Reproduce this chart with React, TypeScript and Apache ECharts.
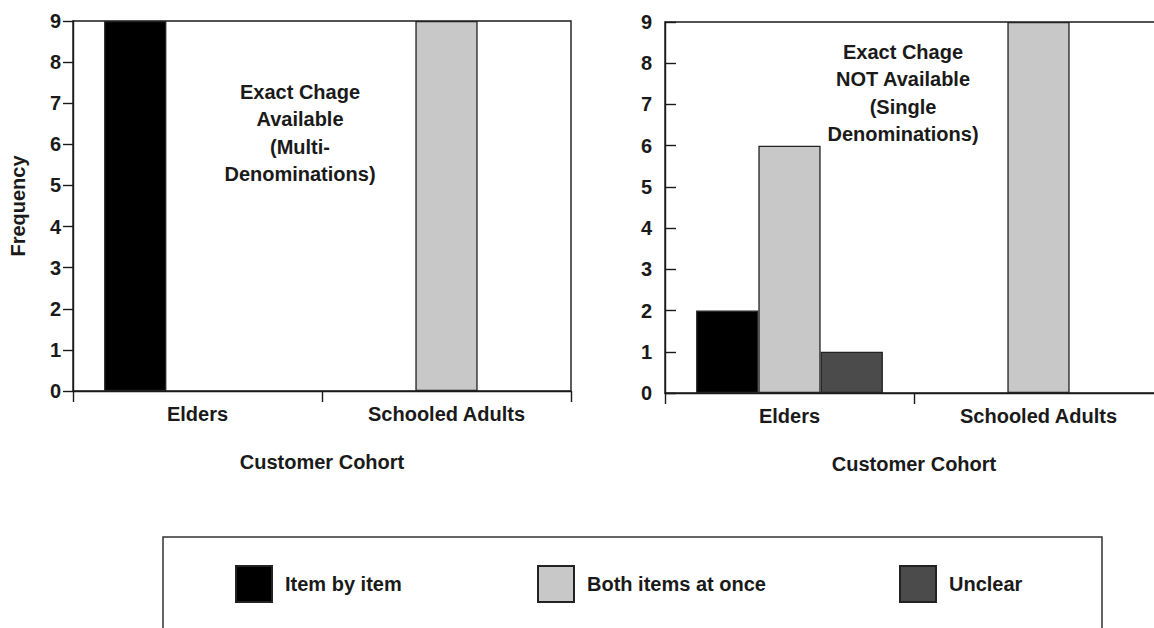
import React, { useEffect, useRef } from "react";
import * as echarts from "echarts";

const categories = ["Elders", "Schooled Adults"];
const seriesNames = ["Item by item", "Both items at once", "Unclear"];
const seriesColors = ["#000000", "#c8c8c8", "#4b4b4b"];

// Left panel: Exact change available (multi-denominations)
const leftItemByItem: (number | null)[] = [9, null];
const leftBoth: (number | null)[] = [null, 9];
const leftUnclear: (number | null)[] = [null, null];

// Right panel: Exact change NOT available (single denominations)
const rightItemByItem: (number | null)[] = [2, null];
const rightBoth: (number | null)[] = [6, 9];
const rightUnclear: (number | null)[] = [1, null];

const leftNote = "Exact Chage\nAvailable\n(Multi-\nDenominations)";
const rightNote = "Exact Chage\nNOT Available\n(Single\nDenominations)";
const yAxisTitle = "Frequency";
const xAxisTitle = "Customer Cohort";

const FONT = '"Liberation Sans", Arial, Helvetica, sans-serif';
const INK = "#1a1a1a";

export default function App() {
  const ref = useRef<HTMLDivElement | null>(null);

  useEffect(() => {
    if (!ref.current) return;
    const chart = echarts.init(ref.current, null, { renderer: "svg" });

    const axisLine = { show: true, lineStyle: { color: INK, width: 1.4 } };

    const makeX = (gridIndex: number) => ({
      type: "category" as const,
      gridIndex,
      data: categories,
      boundaryGap: true,
      axisLine,
      axisTick: { show: true, length: 11, lineStyle: { color: INK, width: 1.4 } },
      axisLabel: {
        margin: 13,
        fontFamily: FONT,
        fontWeight: "bold" as const,
        fontSize: 20,
        color: INK,
      },
      name: xAxisTitle,
      nameLocation: "middle" as const,
      nameGap: 61,
      nameTextStyle: { fontFamily: FONT, fontWeight: "bold" as const, fontSize: 20, color: INK },
      splitLine: { show: false },
    });

    const makeY = (gridIndex: number, inside: boolean, withName: boolean) => ({
      type: "value" as const,
      gridIndex,
      min: 0,
      max: 9,
      interval: 1,
      axisLine,
      axisTick: { show: true, inside, length: inside ? 11 : 10, lineStyle: { color: INK, width: 1.4 } },
      axisLabel: {
        margin: inside ? 13 : 12,
        fontFamily: FONT,
        fontWeight: "bold" as const,
        fontSize: 20,
        color: INK,
      },
      splitLine: { show: false },
      name: withName ? yAxisTitle : "",
      nameLocation: "middle" as const,
      nameRotate: 90,
      nameGap: 45,
      nameTextStyle: { fontFamily: FONT, fontWeight: "bold" as const, fontSize: 20, color: INK },
    });

    const panelData = [
      [leftItemByItem, leftBoth, leftUnclear],
      [rightItemByItem, rightBoth, rightUnclear],
    ];

    const series: any[] = [];
    panelData.forEach((group, gi) => {
      group.forEach((values, si) => {
        series.push({
          type: "bar",
          name: seriesNames[si],
          xAxisIndex: gi,
          yAxisIndex: gi,
          data: values.map((v) => (v === null ? "-" : v)),
          barGap: "0%",
          barCategoryGap: "25%",
          itemStyle: { color: seriesColors[si], borderColor: "#222", borderWidth: 1.3 },
          emphasis: { disabled: true },
        });
      });
    });

    const legendLefts = [235, 537, 899];
    const legends = seriesNames.map((n, i) => ({
      show: true,
      data: [n],
      left: legendLefts[i],
      top: 565,
      padding: 0,
      icon: "rect",
      itemWidth: 36,
      itemHeight: 36,
      selectedMode: false,
      formatter: "{t|{name}}",
      textStyle: {
        rich: {
          t: {
            fontFamily: FONT,
            fontWeight: "bold",
            fontSize: 20,
            color: INK,
            padding: [0, 0, 0, 8],
          },
        },
      },
    }));

    const noteStyle = {
      fontFamily: FONT,
      fontWeight: "bold",
      fontSize: 20,
      fill: INK,
      textAlign: "center",
      textVerticalAlign: "top",
      lineHeight: 27.5,
    };

    chart.setOption({
      animation: false,
      backgroundColor: "#ffffff",
      grid: [
        { left: 73, top: 21, width: 498, height: 370, show: true, borderColor: INK, borderWidth: 1.4, backgroundColor: "transparent", outerBoundsMode: "none", containLabel: false },
        { left: 665, top: 22, width: 498, height: 371, show: true, borderColor: INK, borderWidth: 1.4, backgroundColor: "transparent", outerBoundsMode: "none", containLabel: false },
      ],
      xAxis: [makeX(0), makeX(1)],
      yAxis: [makeY(0, false, true), makeY(1, true, false)],
      legend: legends,
      series,
      graphic: [
        { type: "text", x: 300, y: 78, style: { ...noteStyle, text: leftNote } },
        { type: "text", x: 903, y: 38, style: { ...noteStyle, text: rightNote } },
        {
          type: "rect",
          shape: { x: 163, y: 537, width: 939, height: 120 },
          style: { fill: "none", stroke: "#333", lineWidth: 1.5 },
          z: -1,
        },
      ],
    });

    return () => chart.dispose();
  }, []);

  return (
    <div
      ref={ref}
      style={{ position: "fixed", left: 0, top: 0, width: 1154, height: 628, background: "#fff" }}
    />
  );
}
